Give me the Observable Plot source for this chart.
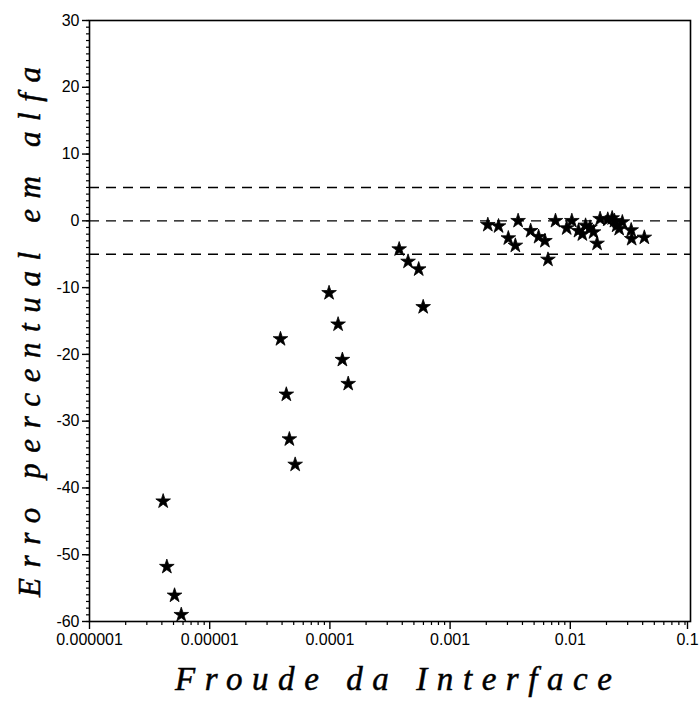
<!DOCTYPE html>
<html>
<head>
<meta charset="utf-8">
<script src="https://cdn.jsdelivr.net/npm/d3@7"></script>
<script src="https://cdn.jsdelivr.net/npm/@observablehq/plot@0.6"></script>
<style>
  html, body { margin: 0; padding: 0; background: #fff; }
  #chart svg { display: block; }
</style>
</head>
<body>
<div id="chart"></div>
<script>
// Froude number at the interface (x, log scale)
const froude = [
  4.1e-6, 4.4e-6, 5.1e-6, 5.8e-6,
  3.88e-5, 4.34e-5, 4.6e-5, 5.14e-5,
  9.84e-5, 1.17e-4, 1.27e-4, 1.42e-4,
  3.77e-4, 4.47e-4, 5.48e-4, 5.97e-4,
  2.06e-3, 2.53e-3, 3.05e-3, 3.49e-3, 3.68e-3, 4.68e-3, 5.45e-3, 6.15e-3, 6.52e-3, 7.53e-3,
  9.33e-3, 1.03e-2, 1.17e-2, 1.26e-2, 1.34e-2, 1.46e-2, 1.56e-2, 1.67e-2, 1.77e-2,
  2.05e-2, 2.23e-2, 2.33e-2, 2.43e-2, 2.55e-2, 2.71e-2, 3.21e-2, 3.24e-2, 4.13e-2
];
// Percentage error in alpha (y)
const erro = [
  -42, -51.8, -56.1, -59,
  -17.7, -26, -32.7, -36.5,
  -10.8, -15.5, -20.8, -24.4,
  -4.25, -6.1, -7.25, -12.9,
  -0.6, -0.8, -2.6, -3.7, 0, -1.5, -2.4, -3.0, -5.8, 0,
  -1.1, 0, -1.5, -2.0, -0.7, -1.0, -1.7, -3.4, 0.3,
  0.2, 0.4, 0, -0.7, -1.2, -0.2, -1.4, -2.7, -2.5
];
// Reference lines
const refLines = [5, 0, -5];
// Tick values and labels
const xTicks = [1e-6, 1e-5, 1e-4, 1e-3, 1e-2, 1e-1];
const xTickLabels = ["0.000001", "0.00001", "0.0001", "0.001", "0.01", "0.1"];
const yTicks = [-60, -50, -40, -30, -20, -10, 0, 10, 20, 30];
const yTickLabels = ["-60", "-50", "-40", "-30", "-20", "-10", "0", "10", "20", "30"];
const xLabel = "Froude da Interface";
const yLabel = "Erro percentual em alfa";

const xMinor = [];
for (let e = -6; e <= -2; e++) for (let k = 2; k <= 9; k++) xMinor.push(k * Math.pow(10, e));
const yMinor = d3.range(-60, 31, 1);

const data = froude.map((f, i) => ({f, e: erro[i]}));

const W = 699, H = 708;
const mL = 89, mR = 9, mT = 20, mB = 87;

const plot = Plot.plot({
  width: W,
  height: H,
  marginLeft: mL,
  marginRight: mR,
  marginTop: mT,
  marginBottom: mB,
  style: {fontFamily: "Liberation Sans, Arial, sans-serif", fontSize: "16px", color: "#000", background: "#fff"},
  x: {type: "log", domain: [1e-6, 1e-1], label: null},
  y: {domain: [-60, 30], label: null},
  marks: [
    Plot.ruleY(refLines, {stroke: "#000", strokeWidth: 1.4, strokeDasharray: "10,7"}),
    Plot.axisX(xMinor, {tickSize: 4, tickFormat: () => "", strokeWidth: 1.2, label: null}),
    Plot.axisX(xTicks.slice(0, 5), {tickSize: 8, tickPadding: 4, strokeWidth: 1.4,
      tickFormat: d => xTickLabels[xTicks.indexOf(d)], label: null}),
    Plot.axisX(xTicks.slice(5), {tickSize: 8, tickPadding: 4, strokeWidth: 1.4, dx: -3,
      tickFormat: d => xTickLabels[xTicks.indexOf(d)], label: null}),
    Plot.axisY(yMinor, {tickSize: 3, tickFormat: () => "", strokeWidth: 1.2, label: null}),
    Plot.axisY(yTicks, {tickSize: 7, tickPadding: 3, strokeWidth: 1.4,
      tickFormat: d => yTickLabels[yTicks.indexOf(d)], label: null}),
    Plot.frame({stroke: "#000", strokeWidth: 1.6}),
    Plot.dot(data, {x: "f", y: "e", symbol: "star", r: 4.6, fill: "#000", stroke: "#000", strokeWidth: 0.8})
  ]
});

// Axis titles in spaced italic serif
const svg = d3.select(plot);
svg.append("text")
  .attr("x", (mL + W - mR) / 2 + 4)
  .attr("y", 690)
  .attr("text-anchor", "middle")
  .attr("font-family", "Liberation Serif, DejaVu Serif, serif")
  .attr("font-style", "italic")
  .attr("font-size", 33)
  .attr("fill", "#000")
  .attr("stroke", "#000")
  .attr("stroke-width", 0.5)
  .attr("textLength", 437)
  .attr("lengthAdjust", "spacing")
  .text(xLabel);
svg.append("text")
  .attr("transform", `translate(40,${332}) rotate(-90)`)
  .attr("text-anchor", "middle")
  .attr("font-family", "Liberation Serif, DejaVu Serif, serif")
  .attr("font-style", "italic")
  .attr("font-size", 31)
  .attr("fill", "#000")
  .attr("stroke", "#000")
  .attr("stroke-width", 0.5)
  .attr("textLength", 530)
  .attr("lengthAdjust", "spacing")
  .text(yLabel);

document.getElementById("chart").append(plot);
</script>
</body>
</html>
